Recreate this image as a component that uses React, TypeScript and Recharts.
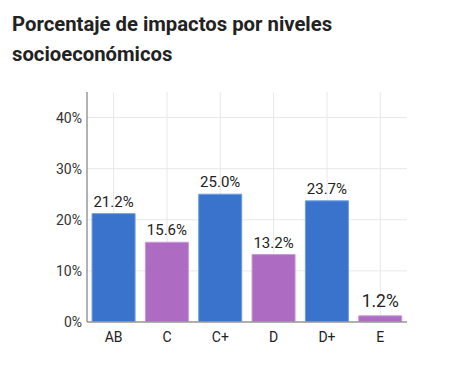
import React from "react";
import { BarChart, Bar, XAxis, YAxis, CartesianGrid, Cell, LabelList } from "recharts";

const categories = ["AB", "C", "C+", "D", "D+", "E"];
const values = [21.2, 15.6, 25.0, 13.2, 23.7, 1.2];
const yTicks = [0, 10, 20, 30, 40];

const data = categories.map((c, i) => ({ name: c, value: values[i] }));

const BLUE = "#3a73cb";
const PURPLE = "#ad6bc2";
const BLUE_EDGE = "#6d9be0";
const PURPLE_EDGE = "#c898d8";

const renderLabel = (props: any) => {
  const { x, y, width, value, index } = props;
  const big = index === values.length - 1;
  return (
    <text
      x={Number(x) + Number(width) / 2}
      y={Number(y) - (big ? 9 : 7)}
      textAnchor="middle"
      fill="#222"
      fontSize={big ? 17.5 : 15}
      fontFamily="Roboto"
    >
      {Number(value).toFixed(1)}%
    </text>
  );
};

export default function App() {
  return (
    <div style={{ position: "absolute", left: 0, top: 0, width: 450, height: 366, background: "#fff", fontFamily: "Roboto" }}>
      <div
        style={{
          position: "absolute",
          left: 12,
          top: 9,
          fontSize: 20.3,
          fontWeight: 700,
          lineHeight: "30px",
          color: "#222",
          width: 430,
        }}
      >
        Porcentaje de impactos por niveles
        <br />
        socioeconómicos
      </div>
      <div style={{ position: "absolute", left: 0, top: 0 }}>
        <BarChart
          width={450}
          height={366}
          data={data}
          margin={{ top: 92, right: 43, bottom: 14, left: 37 }}
          barCategoryGap="9.5%"
        >
          <CartesianGrid stroke="#e8e8e8" strokeWidth={1} syncWithTicks />
          <XAxis
            dataKey="name"
            tickLine={false}
            tickSize={0}
            tickMargin={10}
            height={30}
            axisLine={{ stroke: "#999", strokeWidth: 1.5 }}
            tick={{ fill: "#222", fontSize: 14, fontFamily: "Roboto" }}
            interval={0}
          />
          <YAxis
            domain={[0, 45]}
            ticks={yTicks}
            width={50}
            tickLine={false}
            tickSize={0}
            tickMargin={5}
            axisLine={{ stroke: "#999", strokeWidth: 1.5 }}
            tickFormatter={(v: number) => `${v}%`}
            tick={{ fill: "#333", fontSize: 14, fontFamily: "Roboto" }}
            allowDataOverflow
          />
          <Bar dataKey="value" isAnimationActive={false}>
            {data.map((d, i) => (
              <Cell
                key={d.name}
                fill={i % 2 === 0 ? BLUE : PURPLE}
                stroke={i % 2 === 0 ? BLUE_EDGE : PURPLE_EDGE}
                strokeWidth={1}
              />
            ))}
            <LabelList dataKey="value" content={renderLabel} />
          </Bar>
        </BarChart>
      </div>
    </div>
  );
}
